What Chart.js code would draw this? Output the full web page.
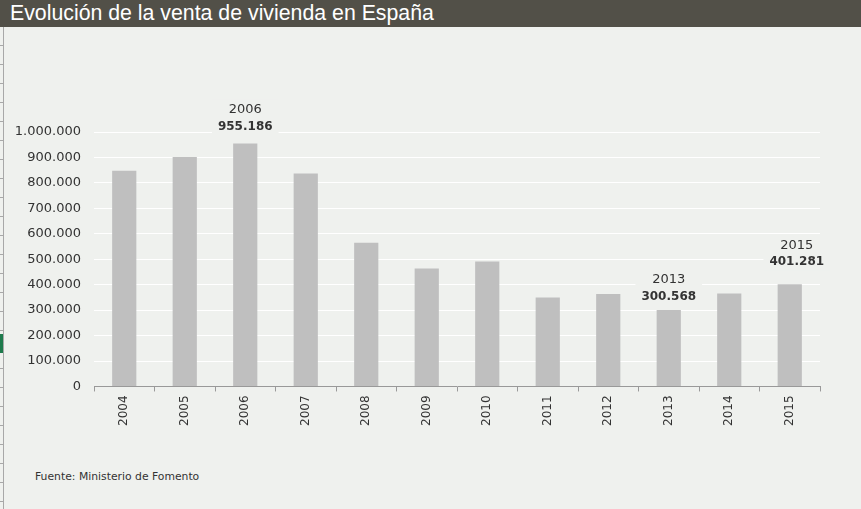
<!DOCTYPE html>
<html>
<head>
<meta charset="utf-8">
<script src="https://cdn.jsdelivr.net/npm/chart.js@4"></script>
<style>
  html, body { margin: 0; padding: 0; background: #eff1ee; }
  #wrap { position: relative; width: 861px; height: 509px; overflow: hidden; background: #eff1ee; }
  #title {
    position: absolute; left: 0; top: 0; width: 861px; height: 27px;
    background: #525048; color: #fff;
    font: 21.3px "Liberation Sans", Arial, sans-serif;
    line-height: 27px; padding-left: 10px; box-sizing: border-box;
  }
  #edge {
    position: absolute; left: 0; top: 27px; width: 3px; height: 482px;
    border-right: 1px solid #a8a8a8;
    background: repeating-linear-gradient(to bottom, transparent 0, transparent 18px, #a8a8a8 18px, #a8a8a8 19px);
  }
  #mark { position: absolute; left: 0; top: 334px; width: 3px; height: 19px; background: #1e7a4c; }
  #chart { position: absolute; left: 0; top: 27px; }
  #source {
    position: absolute; left: 35px; top: 470px;
    font: 10.8px "DejaVu Sans", Verdana, sans-serif; color: #333;
  }
</style>
</head>
<body>
<div id="wrap">
  <div id="title">Evolución de la venta de vivienda en España</div>
  <canvas id="chart" width="861" height="420"></canvas>
  <div id="edge"></div>
  <div id="mark"></div>
  <div id="source">Fuente: Ministerio de Fomento</div>
</div>
<script>
const years = ["2004", "2005", "2006", "2007", "2008", "2009", "2010", "2011", "2012", "2013", "2014", "2015"];
const ventas = [848000, 901574, 955186, 836871, 564464, 463719, 491287, 349118, 363623, 300568, 365621, 401281];
const highlighted = ["2006", "2013", "2015"];

function fmt(n) {
  return String(Math.round(n)).replace(/\B(?=(\d{3})+(?!\d))/g, ".");
}

// labels above the highlighted bars, with a patch of background behind them
// (lift = gap between bar top and the value line, dx = sideways nudge)
const calloutStyle = {
  "2006": { lift: 17, dx: 0 },
  "2013": { lift: 13, dx: 0 },
  "2015": { lift: 22, dx: 7 },
};
const calloutPlugin = {
  id: "callouts",
  afterDatasetsDraw(chart) {
    const ctx = chart.ctx;
    const meta = chart.getDatasetMeta(0);
    ctx.save();
    ctx.textAlign = "center";
    ctx.textBaseline = "middle";
    highlighted.forEach(y => {
      const i = years.indexOf(y);
      const bar = meta.data[i];
      const st = calloutStyle[y];
      const x = bar.x + st.dx;
      const vy = bar.y - st.lift;
      ctx.font = "bold 12px 'DejaVu Sans', Verdana, sans-serif";
      const w = Math.max(ctx.measureText(fmt(ventas[i])).width, 34) + 12;
      ctx.fillStyle = "#eff1ee";
      ctx.fillRect(x - w / 2, vy - 27, w, 35);
      ctx.fillStyle = "#333";
      ctx.font = "13px 'DejaVu Sans', Verdana, sans-serif";
      ctx.fillText(y, x, vy - 17);
      ctx.font = "bold 12px 'DejaVu Sans', Verdana, sans-serif";
      ctx.fillText(fmt(ventas[i]), x, vy);
    });
    ctx.restore();
  }
};

new Chart(document.getElementById("chart").getContext("2d"), {
  type: "bar",
  data: {
    labels: years,
    datasets: [{
      data: ventas,
      backgroundColor: "#bfbfbf",
      barPercentage: 0.4,
      categoryPercentage: 1.0,
    }],
  },
  options: {
    responsive: false,
    animation: false,
    layout: { padding: { left: 13, right: 41, top: 105, bottom: 17 } },
    plugins: { legend: { display: false }, tooltip: { enabled: false } },
    scales: {
      x: {
        grid: { drawOnChartArea: false, drawTicks: true, tickLength: 5, offset: true, color: "#999" },
        border: { display: true, color: "#999" },
        ticks: {
          minRotation: 90, maxRotation: 90, padding: 4,
          color: "#333", font: { family: "'DejaVu Sans', Verdana, sans-serif", size: 12 },
        },
      },
      y: {
        min: 0, max: 1000000,
        grid: { color: "#ffffff", lineWidth: 1, drawTicks: false },
        border: { display: false },
        afterFit(scale) { scale.width = 81; },
        ticks: {
          stepSize: 100000, padding: 13, color: "#333",
          font: { family: "'DejaVu Sans', Verdana, sans-serif", size: 13 },
          callback: v => fmt(v),
        },
      },
    },
  },
  plugins: [calloutPlugin],
});
</script>
</body>
</html>
